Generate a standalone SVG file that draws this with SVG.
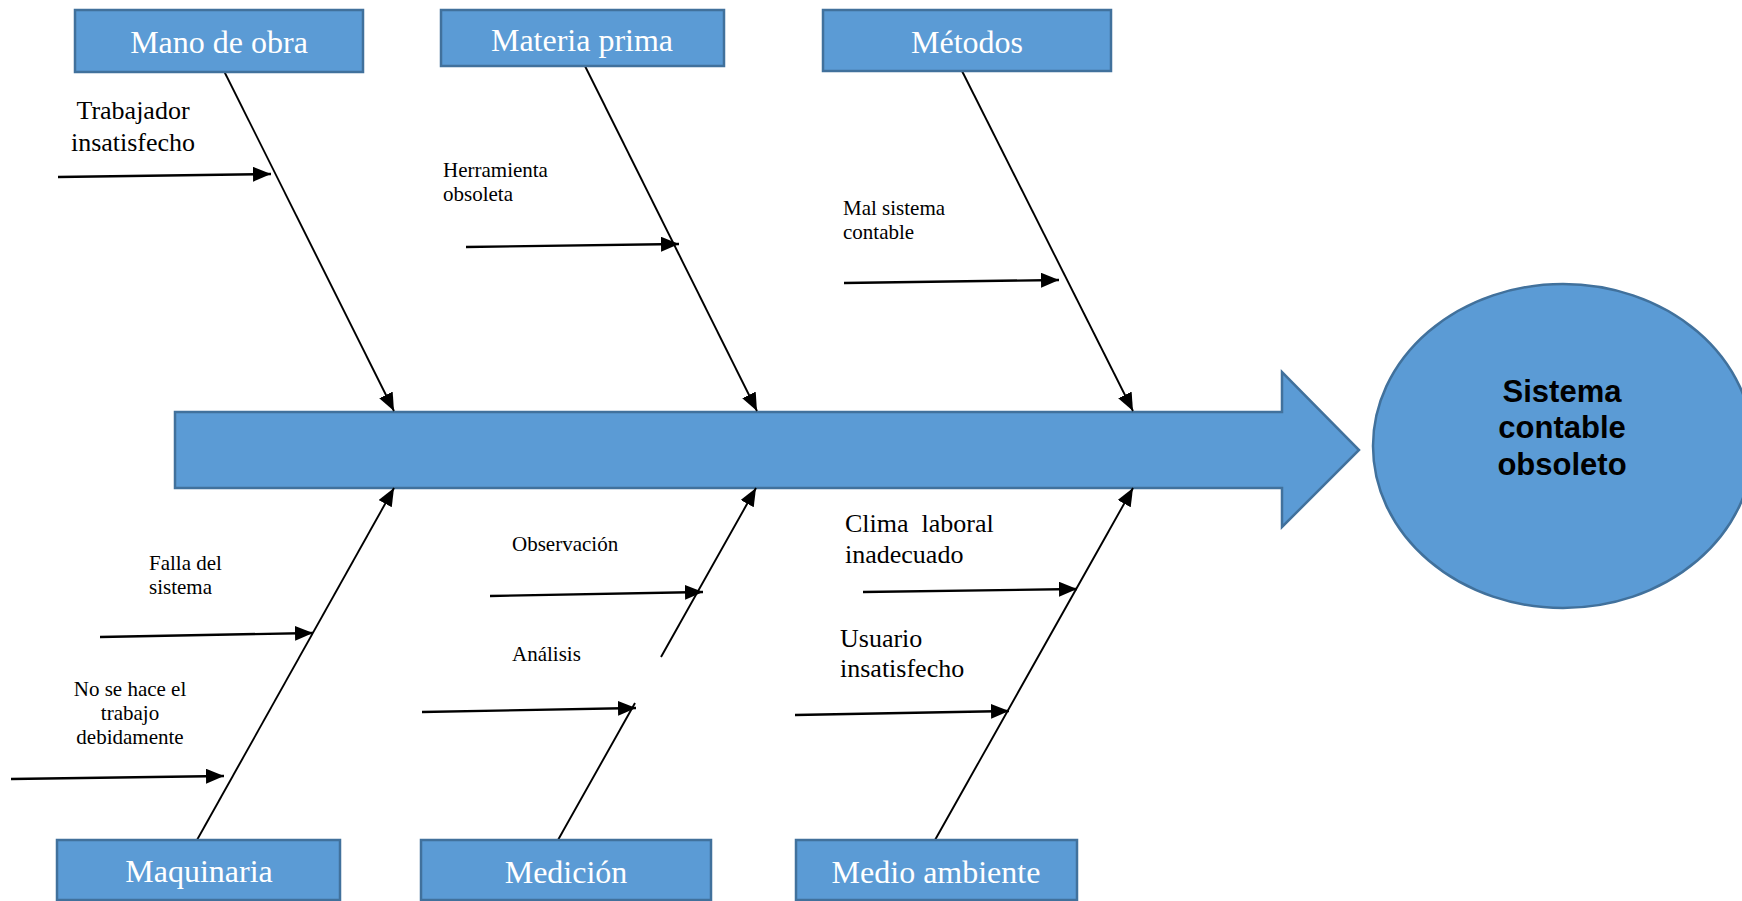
<svg xmlns="http://www.w3.org/2000/svg" width="1742" height="901" viewBox="0 0 1742 901">
<style>
.box{fill:#5B9BD5;stroke:#41719C;stroke-width:2.5}
.blab{font-family:"Liberation Serif","Times New Roman",serif;font-size:32px;fill:#ffffff;text-anchor:middle}
.big{font-family:"Liberation Serif","Times New Roman",serif;font-size:26px;fill:#000}
.small{font-family:"Liberation Serif","Times New Roman",serif;font-size:21px;fill:#000}
.diag{stroke:#000;stroke-width:1.9;fill:none}
.hor{stroke:#000;stroke-width:2.4;fill:none}
.effect{font-family:"Liberation Sans",Arial,sans-serif;font-size:31px;font-weight:bold;fill:#000;text-anchor:middle}
</style>
<defs>
<marker id="ah" markerUnits="userSpaceOnUse" markerWidth="19" markerHeight="16" refX="18" refY="7.5" orient="auto">
<path d="M0,0 L18,7.5 L0,15 z" fill="#000"/>
</marker>
</defs>
<rect width="1742" height="901" fill="#ffffff"/>

<g id="spine">
<polygon class="box" points="175,412 1282,412 1282,372 1359,450 1282,527 1282,488 175,488"/>
</g>

<g id="effect">
<ellipse class="box" cx="1563" cy="446" rx="190" ry="162"/>
<text class="effect" x="1562" y="402">Sistema</text>
<text class="effect" x="1562" y="438">contable</text>
<text class="effect" x="1562" y="475">obsoleto</text>
</g>

<g id="connectors">
<line class="diag" x1="224" y1="71" x2="394" y2="411" marker-end="url(#ah)"/>
<line class="diag" x1="585" y1="66" x2="757" y2="411" marker-end="url(#ah)"/>
<line class="diag" x1="962" y1="71" x2="1133" y2="411" marker-end="url(#ah)"/>
<line class="diag" x1="197" y1="840" x2="394" y2="488" marker-end="url(#ah)"/>
<line class="diag" x1="558" y1="840" x2="635" y2="703"/>
<line class="diag" x1="661" y1="657" x2="756" y2="488" marker-end="url(#ah)"/>
<line class="diag" x1="935" y1="840" x2="1133" y2="488" marker-end="url(#ah)"/>

<line class="hor" x1="58" y1="177" x2="271" y2="174" marker-end="url(#ah)"/>
<line class="hor" x1="466" y1="247" x2="679" y2="244" marker-end="url(#ah)"/>
<line class="hor" x1="844" y1="283" x2="1059" y2="280" marker-end="url(#ah)"/>
<line class="hor" x1="100" y1="637" x2="313" y2="633" marker-end="url(#ah)"/>
<line class="hor" x1="11" y1="779" x2="224" y2="776" marker-end="url(#ah)"/>
<line class="hor" x1="490" y1="596" x2="703" y2="592" marker-end="url(#ah)"/>
<line class="hor" x1="422" y1="712" x2="636" y2="708" marker-end="url(#ah)"/>
<line class="hor" x1="863" y1="592" x2="1077" y2="589" marker-end="url(#ah)"/>
<line class="hor" x1="795" y1="715" x2="1009" y2="711" marker-end="url(#ah)"/>
</g>

<g id="mano-de-obra">
<rect class="box" x="75" y="10" width="288" height="62"/>
<text class="blab" x="219" y="53">Mano de obra</text>
</g>
<g id="materia-prima">
<rect class="box" x="441" y="10" width="283" height="56"/>
<text class="blab" x="582" y="51">Materia prima</text>
</g>
<g id="metodos">
<rect class="box" x="823" y="10" width="288" height="61"/>
<text class="blab" x="967" y="53">Métodos</text>
</g>
<g id="maquinaria">
<rect class="box" x="57" y="840" width="283" height="60"/>
<text class="blab" x="199" y="882">Maquinaria</text>
</g>
<g id="medicion">
<rect class="box" x="421" y="840" width="290" height="60"/>
<text class="blab" x="566" y="883">Medición</text>
</g>
<g id="medio-ambiente">
<rect class="box" x="796" y="840" width="281" height="60"/>
<text class="blab" x="936" y="883">Medio ambiente</text>
</g>

<g id="causes">
<text class="big" x="133" y="119" text-anchor="middle">Trabajador</text>
<text class="big" x="133" y="151" text-anchor="middle">insatisfecho</text>
<text class="small" x="443" y="177">Herramienta</text>
<text class="small" x="443" y="201">obsoleta</text>
<text class="small" x="843" y="215">Mal sistema</text>
<text class="small" x="843" y="239">contable</text>
<text class="small" x="149" y="570">Falla del</text>
<text class="small" x="149" y="594">sistema</text>
<text class="small" x="130" y="696" text-anchor="middle">No se hace el</text>
<text class="small" x="130" y="720" text-anchor="middle">trabajo</text>
<text class="small" x="130" y="744" text-anchor="middle">debidamente</text>
<text class="small" x="512" y="551">Observación</text>
<text class="small" x="512" y="661">Análisis</text>
<text class="big" x="845" y="532" xml:space="preserve">Clima  laboral</text>
<text class="big" x="845" y="563">inadecuado</text>
<text class="big" x="840" y="647">Usuario</text>
<text class="big" x="840" y="677">insatisfecho</text>
</g>
</svg>
